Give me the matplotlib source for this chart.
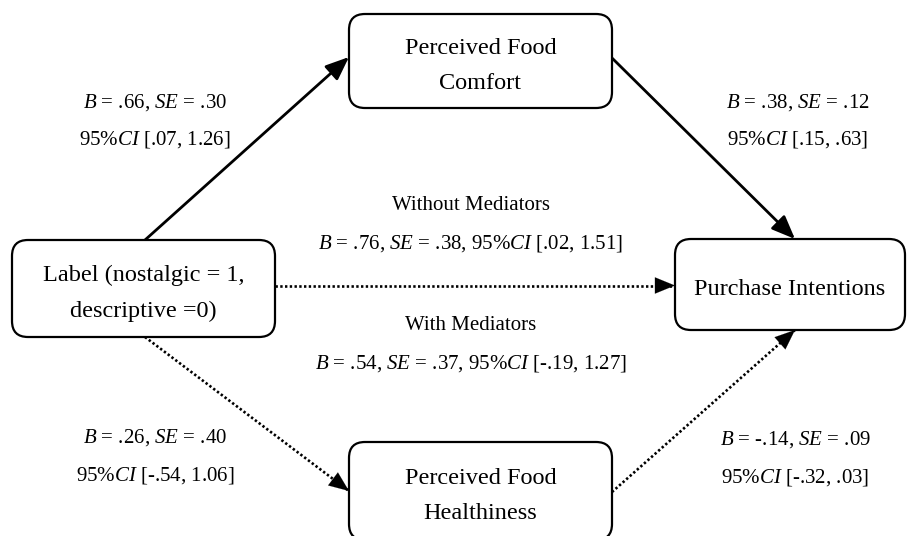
import matplotlib
matplotlib.use("Agg")
import matplotlib.pyplot as plt
from matplotlib.patches import FancyBboxPatch

plt.rcParams['font.family'] = ['Liberation Serif', 'DejaVu Serif']
plt.rcParams['mathtext.fontset'] = 'custom'
plt.rcParams['mathtext.rm'] = 'Liberation Serif'
plt.rcParams['mathtext.it'] = 'Liberation Serif:italic'

# node labels
nodes = ["Label (nostalgic = 1,\ndescriptive =0)", "Perceived Food\nComfort",
         "Purchase Intentions", "Perceived Food\nHealthiness"]

# path coefficients: B, SE, CI low, CI high
path_names = ["a1", "b1", "c", "c_prime", "a2", "b2"]
B = [0.66, 0.38, 0.76, 0.54, 0.26, -0.14]
SE = [0.30, 0.12, 0.38, 0.37, 0.40, 0.09]
ci_lo = [0.07, 0.15, 0.02, -0.19, -0.54, -0.32]
ci_hi = [1.26, 0.63, 1.51, 1.27, 1.06, 0.03]


def fmt(v):
    s = f"{v:.2f}"
    return s.replace("0.", ".", 1)


# box geometry in pixels (x0, y0, x1, y1)
boxes = [(12, 240, 275, 337), (349, 14, 612, 108),
         (675, 239, 905, 330), (349, 442, 612, 540)]

fig = plt.figure(figsize=(9.08, 5.36), dpi=100)
ax = fig.add_axes([0, 0, 1, 1])
ax.set_xlim(0, 908)
ax.set_ylim(536, 0)
ax.axis("off")

for (x0, y0, x1, y1), txt in zip(boxes, nodes):
    ax.add_patch(FancyBboxPatch((x0, y0), x1 - x0, y1 - y0,
                                boxstyle="round,pad=0,rounding_size=16",
                                fc="white", ec="black", lw=1.6, zorder=2))
    ax.text((x0 + x1) / 2, (y0 + y1) / 2 + 5, txt, ha="center", va="center",
            fontsize=17.5, linespacing=1.9, zorder=3)


def arrow(p0, p1, dotted=False):
    head = "-|>,head_length=1.1,head_width=0.45"
    if dotted:
        ax.plot([p0[0], p1[0]], [p0[1], p1[1]], color="black", lw=1.9,
                ls=(0, (0.9, 0.9)), zorder=1)
        dx, dy = p1[0] - p0[0], p1[1] - p0[1]
        n = (dx ** 2 + dy ** 2) ** 0.5
        start = (p1[0] - dx / n * 16, p1[1] - dy / n * 16)
        ax.annotate("", xy=p1, xytext=start,
                    arrowprops=dict(arrowstyle=head, color="black", lw=0.1,
                                    shrinkA=0, shrinkB=0, mutation_scale=13),
                    zorder=1)
    else:
        ax.annotate("", xy=p1, xytext=p0,
                    arrowprops=dict(arrowstyle=head, color="black", lw=2,
                                    shrinkA=0, shrinkB=0, mutation_scale=13),
                    zorder=1)


arrow((145, 240), (349, 57))
arrow((612, 58), (795, 239))
arrow((275, 285.5), (675, 285.5), dotted=True)
arrow((145, 337), (349, 491), dotted=True)
arrow((612, 492), (795, 330), dotted=True)


def stat_line(i):
    return f"$B$ = {fmt(B[i])}, $SE$ = {fmt(SE[i])}"


def ci_line(i):
    return f"95%$CI$ [{fmt(ci_lo[i])}, {fmt(ci_hi[i])}]"


fs = 15
# side labels
side_pos = {0: (155, 103), 1: (798, 103), 4: (155, 438), 5: (795, 440)}
for i, (x, y) in side_pos.items():
    ax.text(x, y, stat_line(i), ha="center", va="center", fontsize=fs)
    ax.text(x, y + 37, ci_line(i), ha="center", va="center", fontsize=fs)

ax.text(471, 205, "Without Mediators", ha="center", va="center", fontsize=fs)
ax.text(471, 243, stat_line(2) + ", " + ci_line(2), ha="center", va="center", fontsize=fs)
ax.text(471, 326, "With Mediators", ha="center", va="center", fontsize=fs)
ax.text(471, 364, stat_line(3) + ", " + ci_line(3), ha="center", va="center", fontsize=fs)

fig.savefig("out.png", dpi=100, facecolor="white")
